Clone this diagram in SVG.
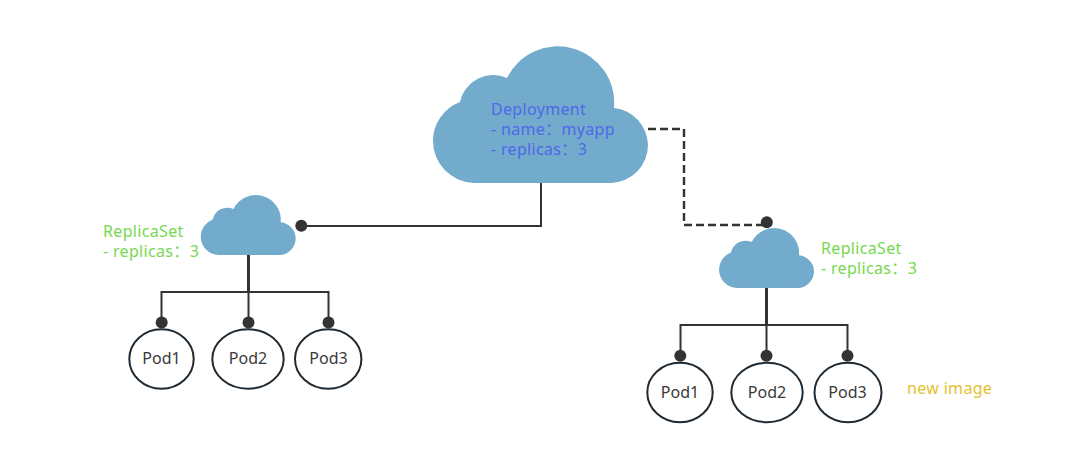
<svg xmlns="http://www.w3.org/2000/svg" width="1065" height="458" viewBox="0 0 1065 458">
<style>
text{font-family:"Noto Sans","Noto Sans CJK SC",sans-serif;font-size:16px}
.lab{letter-spacing:.33px}
.blue{fill:#4e68e8}.green{fill:#76d84f}.dark{fill:#3a3a3a}.yellow{fill:#e3c22f}
.cloud{fill:#73abcc}
.pod{fill:#fff;stroke:#1f2a33;stroke-width:2}
.ln{fill:none;stroke:#333;stroke-width:2}
.thick{fill:none;stroke:#333;stroke-width:3}
.dash{fill:none;stroke:#333;stroke-width:2.400;stroke-dasharray:8 4}
.dot{fill:#333}
</style>
<defs>
<path id="c" d="M474 183A42 42 0 0 1 433 141A42 42 0 0 1 460 102A34 34 0 0 1 507 78A56.500 56.500 0 0 1 614 108A38 38 0 0 1 648 145A38 38 0 0 1 611 183Z"/>
</defs>
<g id="connectors">
<path class="ln" d="M541 183V226H301"/>
<path class="dash" d="M648 129H684V225H767"/>
<path class="thick" d="M248.500 255V292"/>
<path class="ln" d="M161.500 323V292H328.500V323M248.500 292V323"/>
<path class="thick" d="M766.500 288V325"/>
<path class="ln" d="M680.500 356V325H847.500V356M766.500 325V356"/>
</g>
<g id="deployment">
<use href="#c" class="cloud"/>
<text class="blue lab" x="491" y="115">Deployment</text>
<text class="blue lab" x="491" y="135">- name：myapp</text>
<text class="blue lab" x="491" y="155">- replicas：3</text>
</g>
<g id="replicaset-left">
<use href="#c" class="cloud" transform="translate(200.700 195) scale(.4419 .4380) translate(-433 -46)"/>
<text class="green lab" x="103" y="237">ReplicaSet</text>
<text class="green lab" x="103" y="257">- replicas：3</text>
</g>
<g id="replicaset-right">
<use href="#c" class="cloud" transform="translate(719 228) scale(.4419 .4380) translate(-433 -46)"/>
<text class="green lab" x="821" y="254">ReplicaSet</text>
<text class="green lab" x="821" y="274">- replicas：3</text>
</g>
<g id="pod1-left"><ellipse class="pod" cx="161.500" cy="359" rx="32.200" ry="29.700"/><text class="dark" x="161.500" y="364" text-anchor="middle">Pod1</text></g>
<g id="pod2-left"><ellipse class="pod" cx="248" cy="359" rx="35.700" ry="29.700"/><text class="dark" x="248" y="364" text-anchor="middle">Pod2</text></g>
<g id="pod3-left"><ellipse class="pod" cx="328.200" cy="359" rx="33.200" ry="29.700"/><text class="dark" x="328.500" y="364" text-anchor="middle">Pod3</text></g>
<g id="pod1-right"><ellipse class="pod" cx="680" cy="392.500" rx="32.700" ry="29.700"/><text class="dark" x="680" y="398" text-anchor="middle">Pod1</text></g>
<g id="pod2-right"><ellipse class="pod" cx="767" cy="392.500" rx="35.700" ry="29.700"/><text class="dark" x="767" y="398" text-anchor="middle">Pod2</text></g>
<g id="pod3-right"><ellipse class="pod" cx="848" cy="392.500" rx="33.500" ry="29.700"/><text class="dark" x="847.500" y="398" text-anchor="middle">Pod3</text></g>
<g id="dots">
<circle class="dot" cx="301.300" cy="225.700" r="6"/>
<circle class="dot" cx="766.800" cy="222.300" r="6"/>
<circle class="dot" cx="161.700" cy="322.500" r="6"/>
<circle class="dot" cx="248.500" cy="322.500" r="6"/>
<circle class="dot" cx="328.500" cy="322.500" r="6"/>
<circle class="dot" cx="680.300" cy="355.700" r="6"/>
<circle class="dot" cx="766.500" cy="355.700" r="6"/>
<circle class="dot" cx="847.500" cy="355.700" r="6"/>
</g>
<text class="yellow lab" x="907" y="394">new image</text>
</svg>
